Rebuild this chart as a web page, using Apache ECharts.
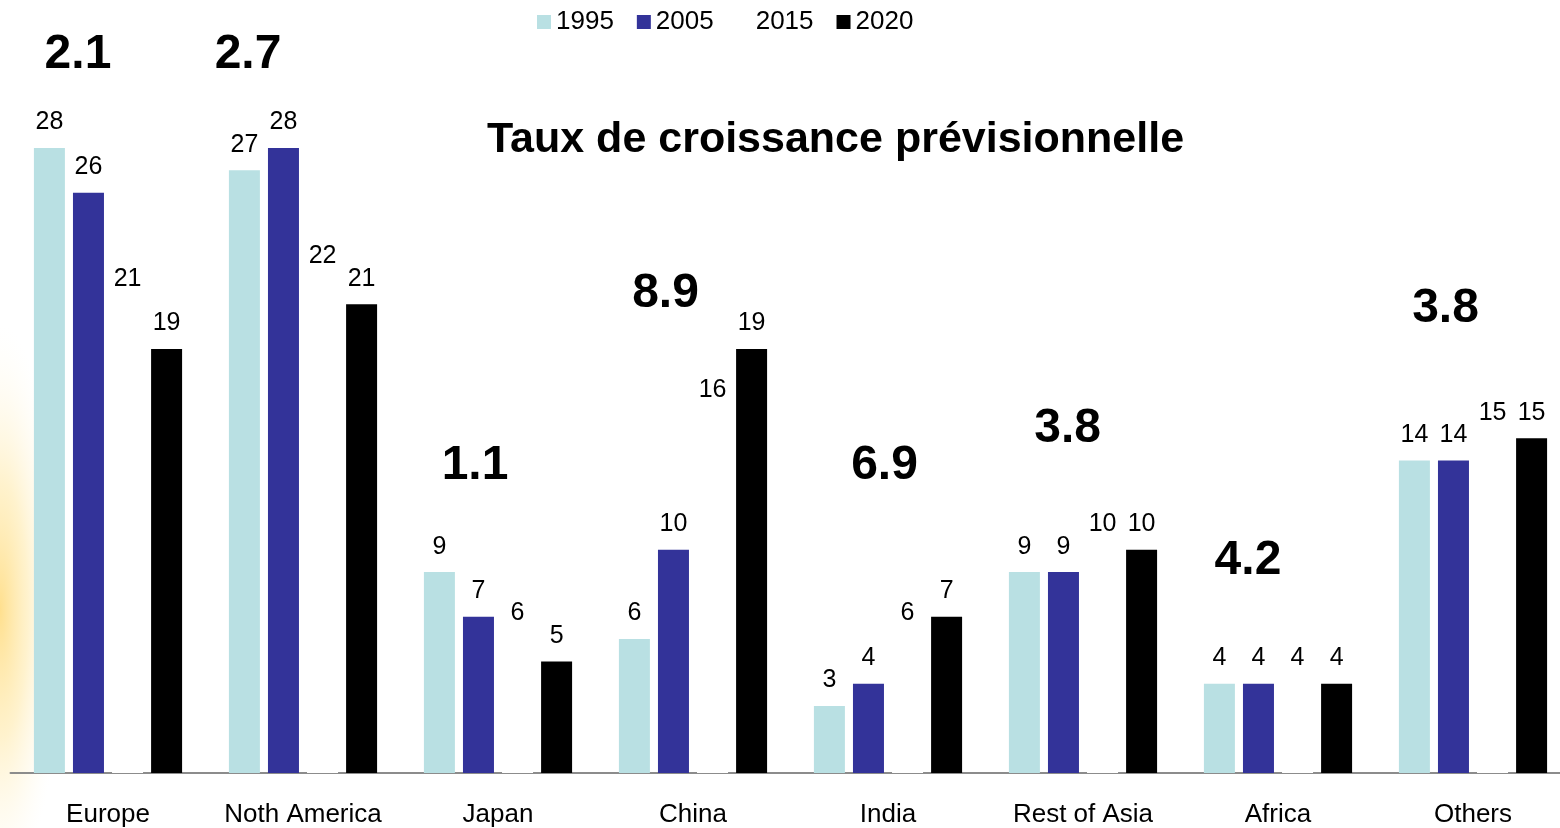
<!DOCTYPE html>
<html>
<head>
<meta charset="utf-8">
<script src="https://cdn.jsdelivr.net/npm/echarts@6/dist/echarts.min.js"></script>
<style>
html,body{margin:0;padding:0;background:#fff;}
#chart{width:1560px;height:828px;}
</style>
</head>
<body>
<div id="chart"></div>
<script>
const categories = ['Europe', 'Noth America', 'Japan', 'China', 'India', 'Rest of Asia', 'Africa', 'Others'];
const years = ['1995', '2005', '2015', '2020'];
const v1995 = [28, 27, 9, 6, 3, 9, 4, 14];
const v2005 = [26, 28, 7, 10, 4, 9, 4, 14];
const v2015 = [21, 22, 6, 16, 6, 10, 4, 15];
const v2020 = [19, 21, 5, 19, 7, 10, 4, 15];
const growthRates = ['2.1', '2.7', '1.1', '8.9', '6.9', '3.8', '4.2', '3.8'];
// anchor of each growth-rate label, in data units (x: category index scale 0..8, y: value scale)
const growthLabelX = [0.346, 1.218, 2.382, 3.359, 4.482, 5.421, 6.346, 7.359];
const growthLabelY = [32.18, 32.18, 13.76, 21.49, 13.76, 15.44, 9.51, 20.80];
const titleText = 'Taux de croissance prévisionnelle';

const FONT = '"Liberation Sans", Arial, Helvetica, sans-serif';
const colors = ['#b9e0e3', '#333399', '#ffffff', '#000000'];
const seriesValues = [v1995, v2005, v2015, v2020];

const chart = echarts.init(document.getElementById('chart'), null, {renderer: 'canvas'});

const barSeries = years.map((y, i) => ({
  name: y,
  type: 'bar',
  xAxisIndex: 0,
  yAxisIndex: 0,
  data: seriesValues[i],
  barWidth: 31,
  barGap: '26%',
  itemStyle: {color: colors[i]},
  label: {
    show: true,
    position: 'top',
    distance: 13,
    color: '#000',
    fontSize: 25,
    fontFamily: FONT
  }
}));

const growthSeries = {
  name: 'growth',
  type: 'scatter',
  xAxisIndex: 1,
  yAxisIndex: 0,
  silent: true,
  symbolSize: 1,
  itemStyle: {color: 'rgba(0,0,0,0)', opacity: 1},
  data: growthRates.map((g, i) => [growthLabelX[i], growthLabelY[i]]),
  label: {
    show: true,
    position: 'inside',
    formatter: p => growthRates[p.dataIndex],
    color: '#000000',
    fontSize: 48,
    fontWeight: 'bold',
    fontFamily: FONT
  },
  z: 5
};

const option = {
  animation: false,
  backgroundColor: '#ffffff',
  textStyle: {fontFamily: FONT},
  graphic: [{
    type: 'circle',
    x: 0,
    y: 610,
    scaleY: 4.6,
    shape: {cx: 0, cy: 0, r: 62},
    style: {
      fill: new echarts.graphic.RadialGradient(0.5, 0.5, 0.5, [
        {offset: 0, color: 'rgba(255,220,130,0.9)'},
        {offset: 0.45, color: 'rgba(255,232,165,0.55)'},
        {offset: 1, color: 'rgba(255,250,235,0)'}
      ])
    },
    silent: true,
    z: -10
  }],
  title: {
    text: titleText,
    left: 487,
    top: 119,
    padding: 0,
    textStyle: {fontSize: 43, fontWeight: 'bold', color: '#000', fontFamily: FONT}
  },
  legend: {
    data: years,
    left: 537,
    top: 9,
    padding: 0,
    itemWidth: 14,
    itemHeight: 14,
    itemGap: 23,
    icon: 'rect',
    textStyle: {fontSize: 26, color: '#000', fontFamily: FONT}
  },
  grid: {left: 10.5, width: 1560, top: 14.1, bottom: 55, containLabel: false, outerBoundsMode: 'none'},
  xAxis: [{
    type: 'category',
    data: categories,
    axisLine: {show: true, lineStyle: {color: '#8c8c8c', width: 2}},
    axisTick: {show: false},
    axisLabel: {color: '#000', fontSize: 26, margin: 29, fontFamily: FONT, interval: 0},
    splitLine: {show: false}
  }, {
    type: 'value',
    min: 0,
    max: 8,
    show: false
  }],
  yAxis: [{
    type: 'value',
    min: 0,
    max: 34,
    show: false,
    splitLine: {show: false}
  }],
  series: [...barSeries, growthSeries]
};

chart.setOption(option);
</script>
</body>
</html>
